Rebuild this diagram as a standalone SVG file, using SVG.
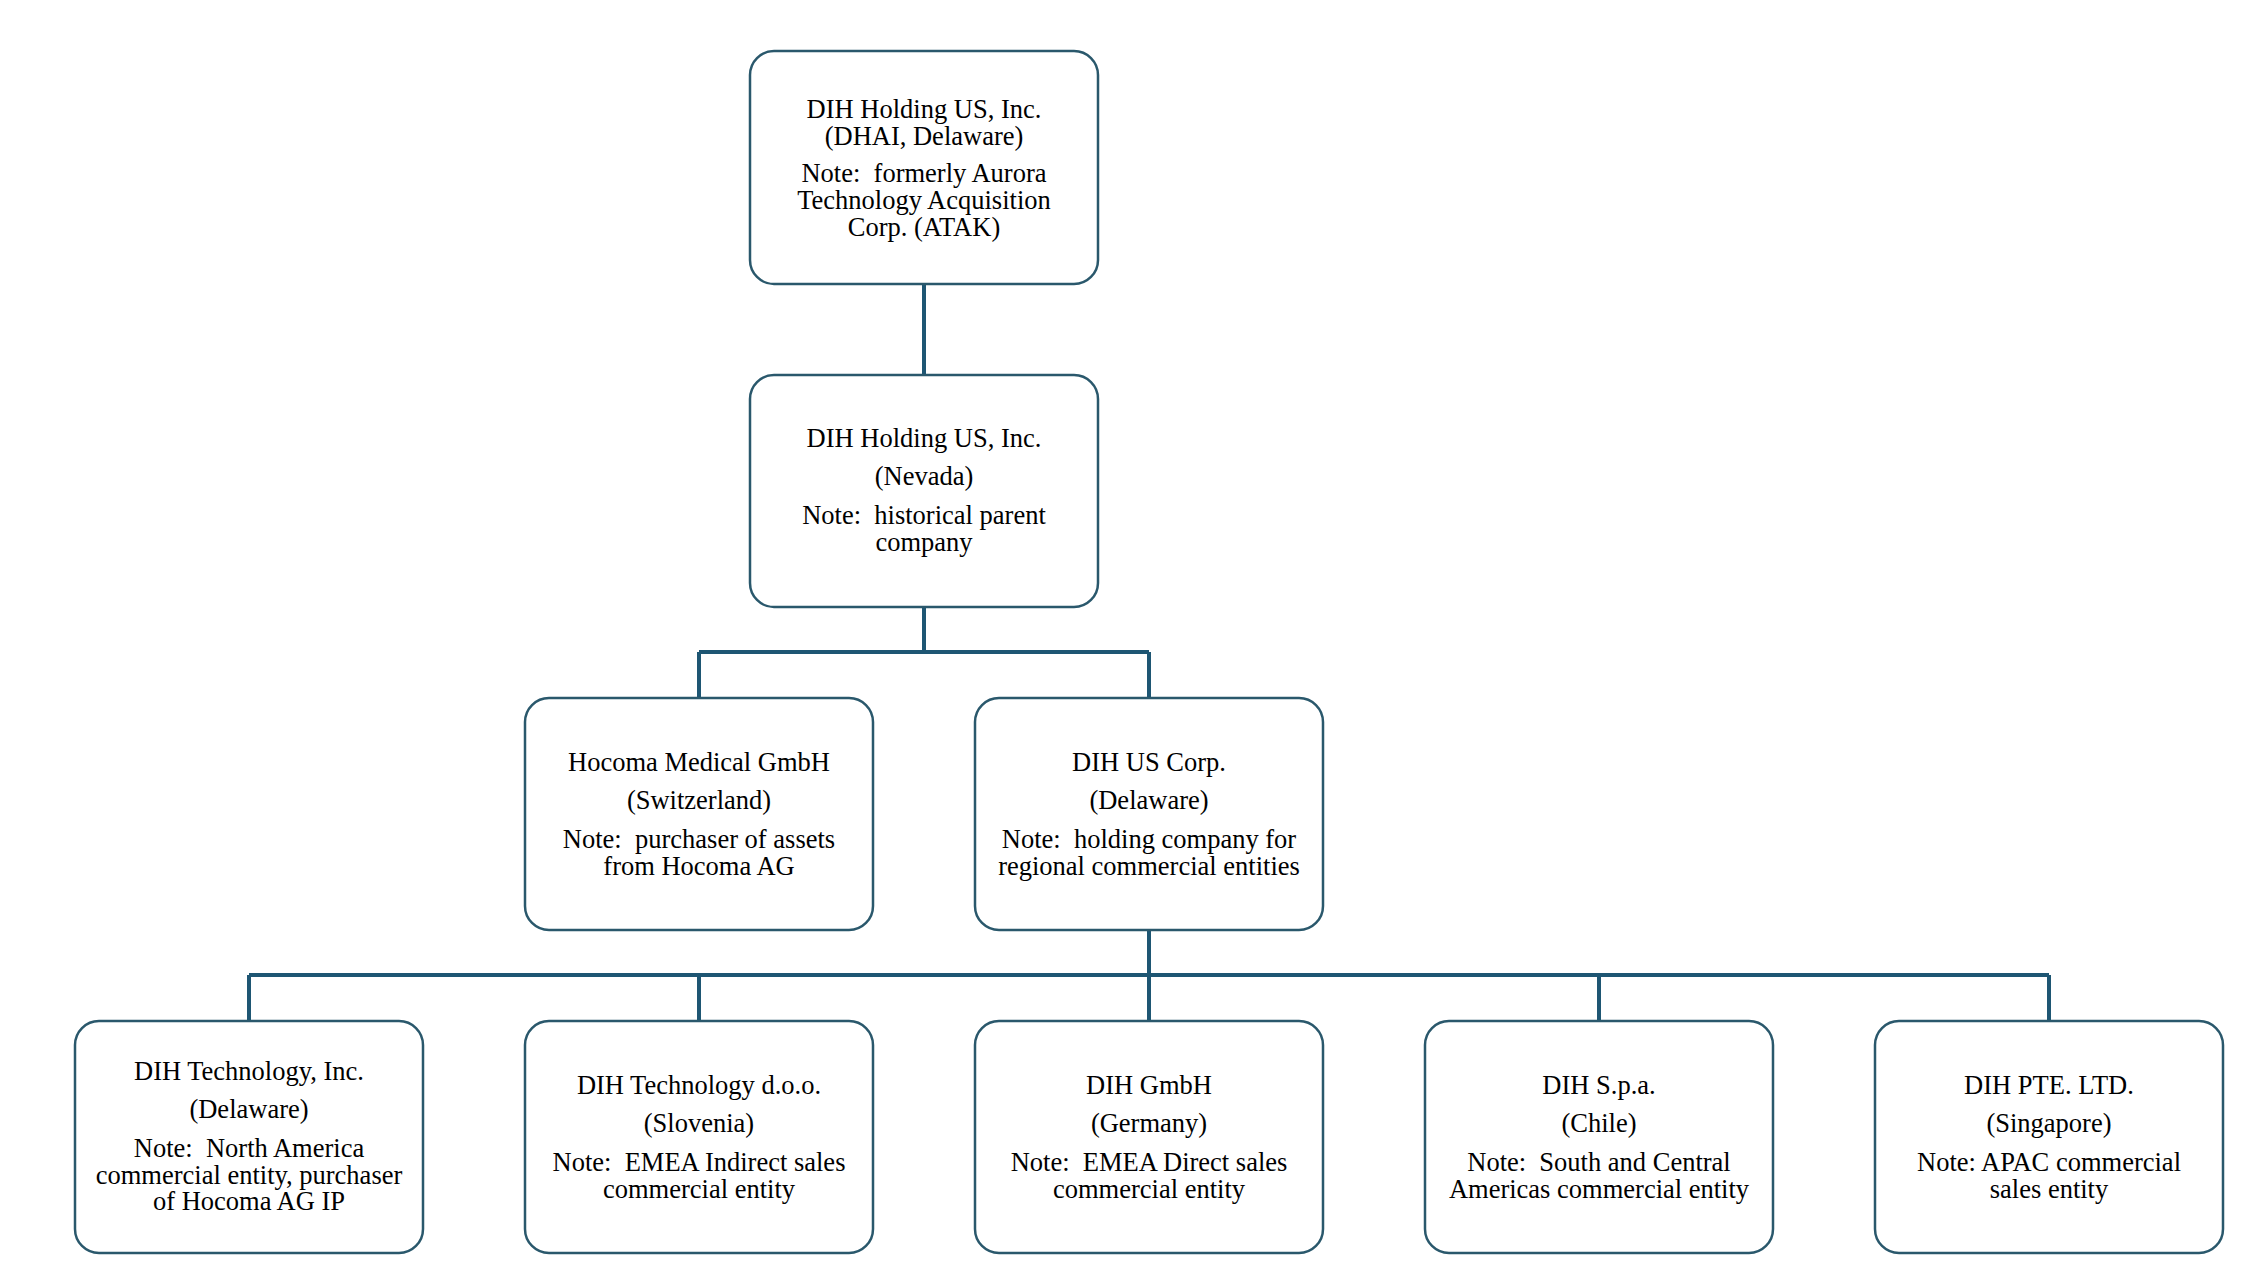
<svg xmlns="http://www.w3.org/2000/svg" width="2244" height="1282" viewBox="0 0 2244 1282">
<style>
.box{fill:#ffffff;stroke:#2a586c;stroke-width:2.5}
.t{font-family:"Liberation Serif","Times New Roman",serif;font-size:26.5px;fill:#000000;text-anchor:middle;white-space:pre}
.c{fill:none;stroke:#1e5673;stroke-width:4}
</style>
<rect width="2244" height="1282" fill="#ffffff"/>
<g id="connectors">
<path class="c" d="M924 284V375"/>
<path class="c" d="M924 607V652M699 652H1149M699 652V698M1149 652V698"/>
<path class="c" d="M1149 930V975M249 975H2049M249 975V1021M699 975V1021M1149 975V1021M1599 975V1021M2049 975V1021"/>
</g>
<g id="dhai">
<rect class="box" x="750" y="51" width="348" height="233" rx="24"/>
<text class="t" x="924" y="117.5">DIH Holding US, Inc.</text>
<text class="t" x="924" y="144.5">(DHAI, Delaware)</text>
<text class="t" x="924" y="181.5" xml:space="preserve">Note:  formerly Aurora</text>
<text class="t" x="924" y="209">Technology Acquisition</text>
<text class="t" x="924" y="236">Corp. (ATAK)</text>
</g>
<g id="nevada">
<rect class="box" x="750" y="375" width="348" height="232" rx="24"/>
<text class="t" x="924" y="447">DIH Holding US, Inc.</text>
<text class="t" x="924" y="485">(Nevada)</text>
<text class="t" x="924" y="524" xml:space="preserve">Note:  historical parent</text>
<text class="t" x="924" y="551">company</text>
</g>
<g id="hocoma">
<rect class="box" x="525" y="698" width="348" height="232" rx="24"/>
<text class="t" x="699" y="771">Hocoma Medical GmbH</text>
<text class="t" x="699" y="809">(Switzerland)</text>
<text class="t" x="699" y="848" xml:space="preserve">Note:  purchaser of assets</text>
<text class="t" x="699" y="875">from Hocoma AG</text>
</g>
<g id="dihuscorp">
<rect class="box" x="975" y="698" width="348" height="232" rx="24"/>
<text class="t" x="1149" y="771">DIH US Corp.</text>
<text class="t" x="1149" y="809">(Delaware)</text>
<text class="t" x="1149" y="848" xml:space="preserve">Note:  holding company for</text>
<text class="t" x="1149" y="875">regional commercial entities</text>
</g>
<g id="dihtech">
<rect class="box" x="75" y="1021" width="348" height="232" rx="24"/>
<text class="t" x="249" y="1080">DIH Technology, Inc.</text>
<text class="t" x="249" y="1118">(Delaware)</text>
<text class="t" x="249" y="1157" xml:space="preserve">Note:  North America</text>
<text class="t" x="249" y="1184">commercial entity, purchaser</text>
<text class="t" x="249" y="1210">of Hocoma AG IP</text>
</g>
<g id="dihdoo">
<rect class="box" x="525" y="1021" width="348" height="232" rx="24"/>
<text class="t" x="699" y="1094">DIH Technology d.o.o.</text>
<text class="t" x="699" y="1132">(Slovenia)</text>
<text class="t" x="699" y="1171" xml:space="preserve">Note:  EMEA Indirect sales</text>
<text class="t" x="699" y="1198">commercial entity</text>
</g>
<g id="dihgmbh">
<rect class="box" x="975" y="1021" width="348" height="232" rx="24"/>
<text class="t" x="1149" y="1094">DIH GmbH</text>
<text class="t" x="1149" y="1132">(Germany)</text>
<text class="t" x="1149" y="1171" xml:space="preserve">Note:  EMEA Direct sales</text>
<text class="t" x="1149" y="1198">commercial entity</text>
</g>
<g id="dihspa">
<rect class="box" x="1425" y="1021" width="348" height="232" rx="24"/>
<text class="t" x="1599" y="1094">DIH S.p.a.</text>
<text class="t" x="1599" y="1132">(Chile)</text>
<text class="t" x="1599" y="1171" xml:space="preserve">Note:  South and Central</text>
<text class="t" x="1599" y="1198">Americas commercial entity</text>
</g>
<g id="dihpte">
<rect class="box" x="1875" y="1021" width="348" height="232" rx="24"/>
<text class="t" x="2049" y="1094">DIH PTE. LTD.</text>
<text class="t" x="2049" y="1132">(Singapore)</text>
<text class="t" x="2049" y="1171">Note: APAC commercial</text>
<text class="t" x="2049" y="1198">sales entity</text>
</g>
</svg>
